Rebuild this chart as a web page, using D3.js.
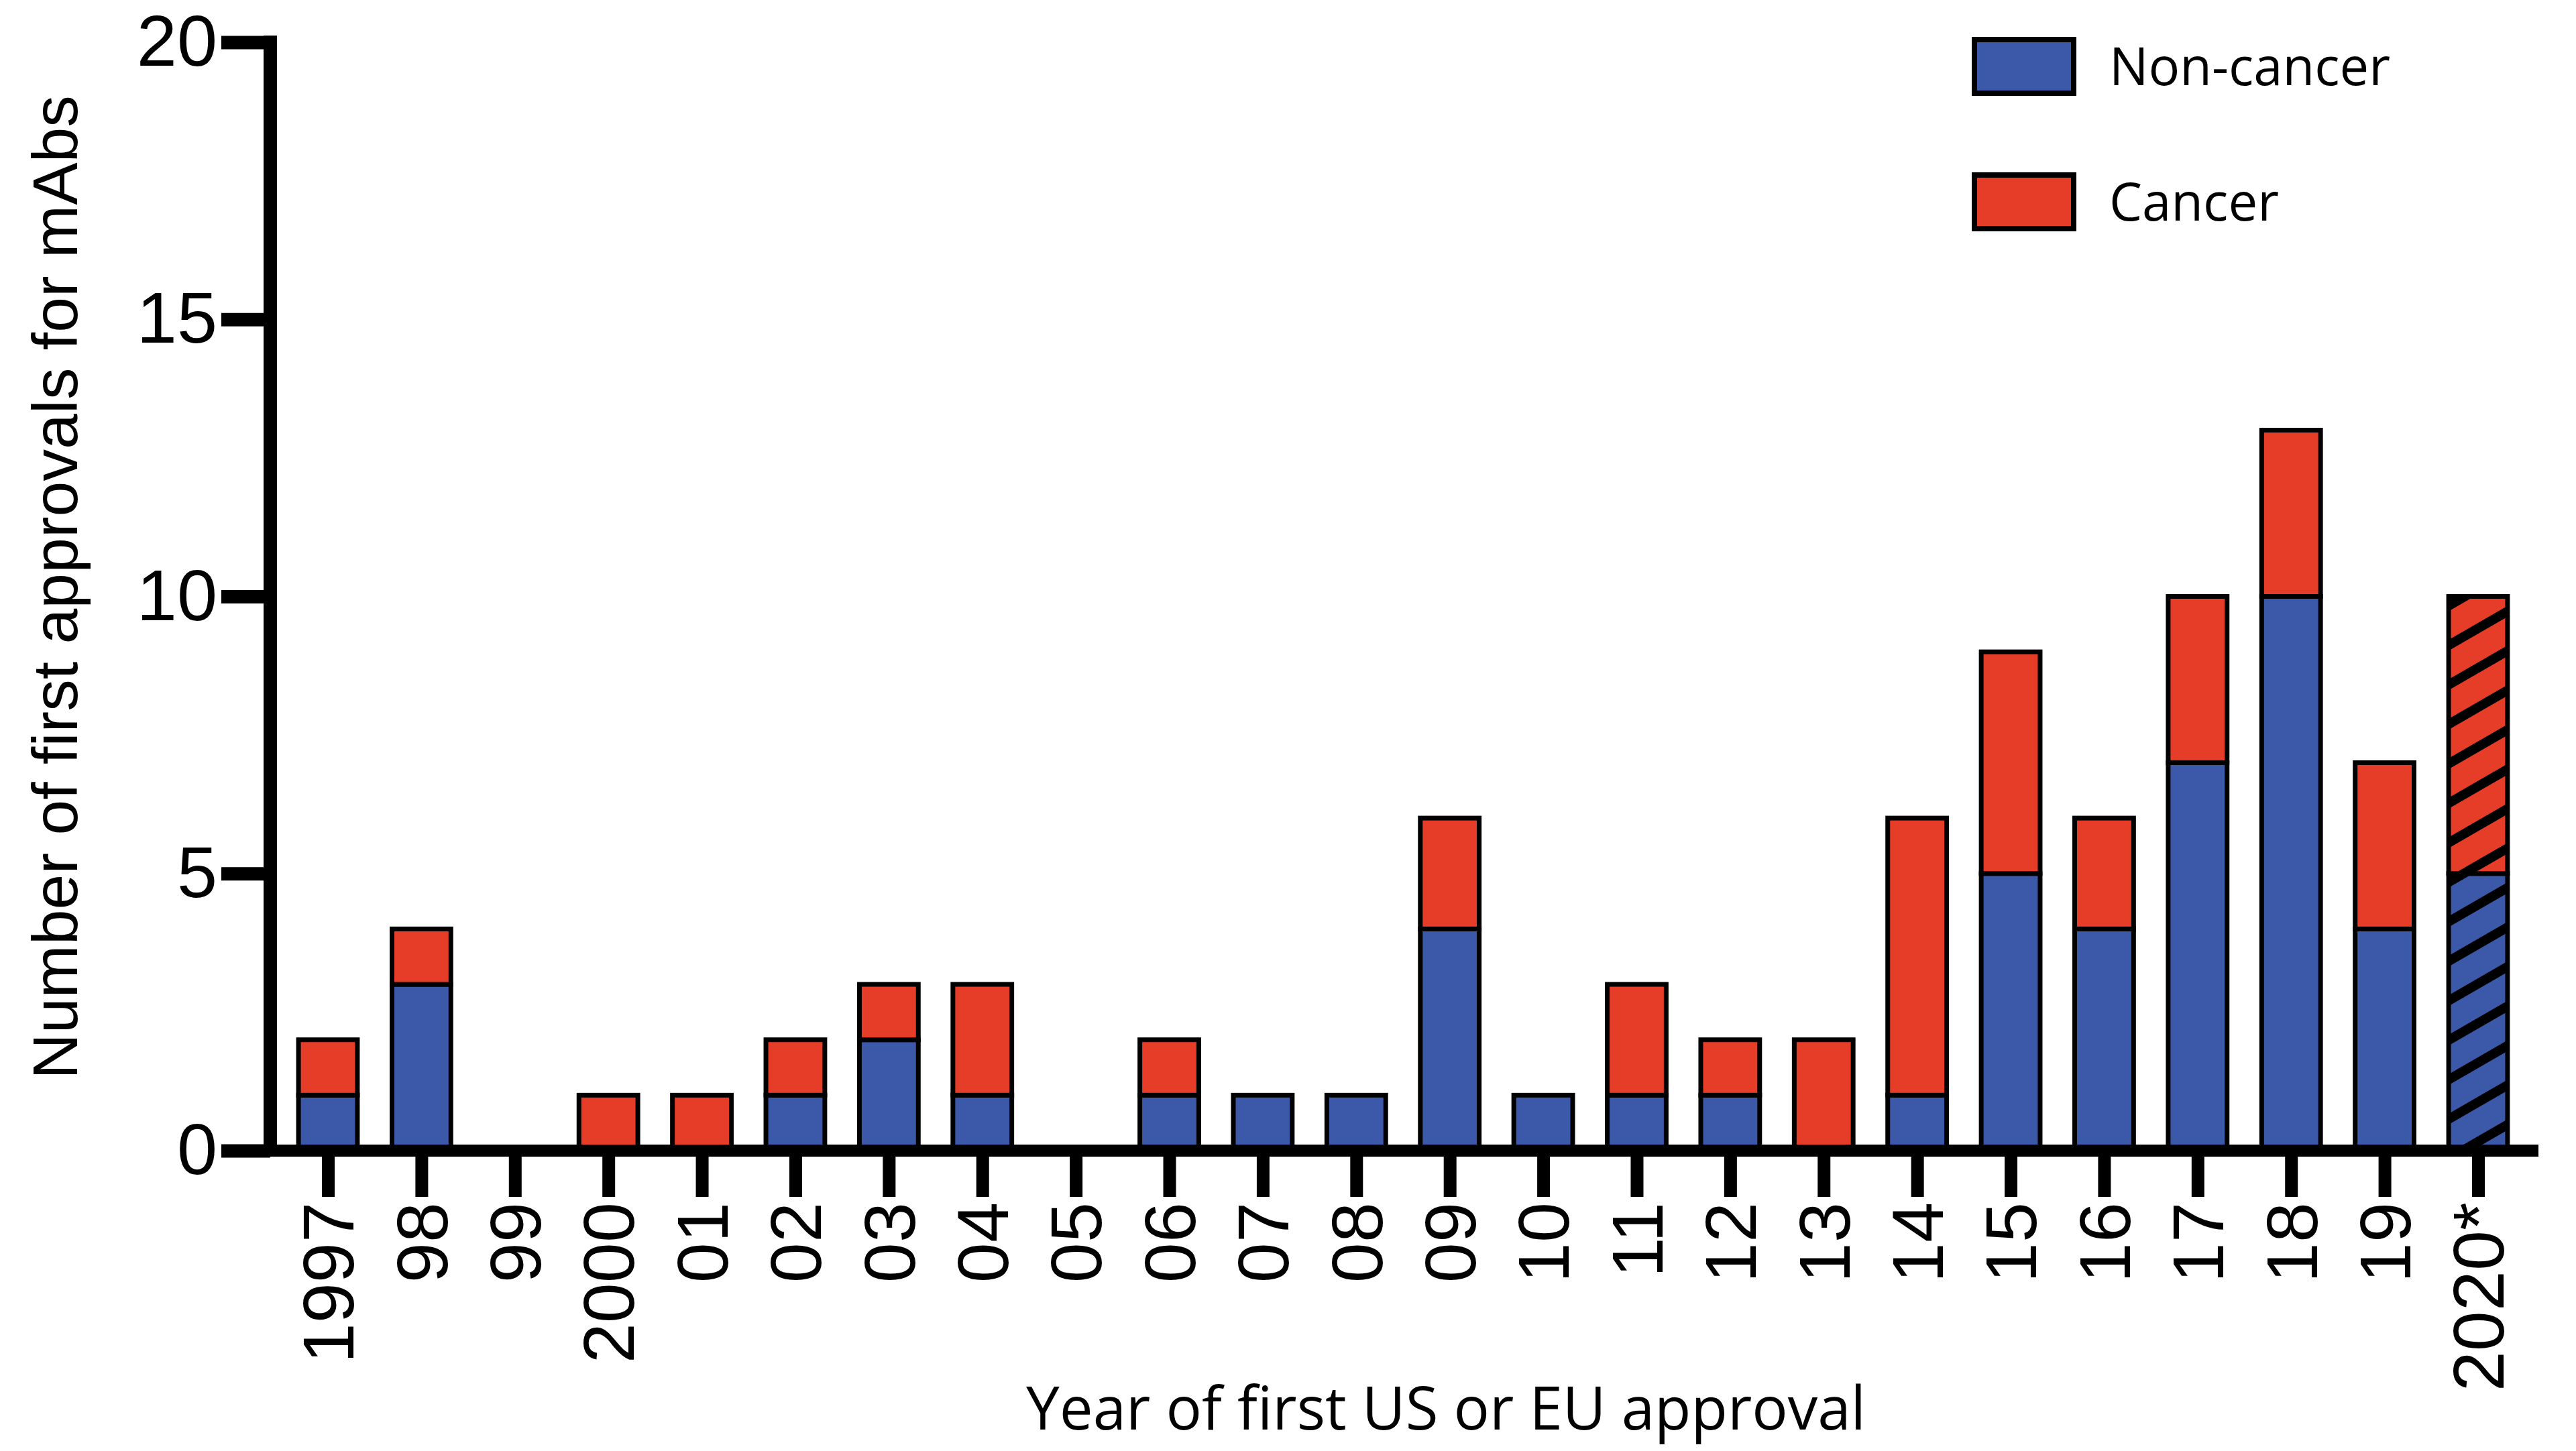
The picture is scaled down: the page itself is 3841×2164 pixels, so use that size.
<!doctype html>
<html>
<head>
<script src="https://cdnjs.cloudflare.com/ajax/libs/d3/7.8.5/d3.min.js"></script>
<style>
  body { margin: 0; background: #fff; }
</style>
</head>
<body>
<svg width="3841" height="2164"></svg>
<script>
// data
var years = ["1997","98","99","2000","01","02","03","04","05","06","07","08",
             "09","10","11","12","13","14","15","16","17","18","19","2020*"];
var nonCancer = [1,3,0,0,0,1,2,1,0,1,1,1,4,1,1,1,0,1,5,4,7,10,4,5];
var cancer    = [1,1,0,1,1,1,1,2,0,1,0,0,2,0,2,1,2,5,4,2,3,3,3,5];
var hatched = ["2020*"];
var yTicks = [0,5,10,15,20];
var seriesNames = ["Non-cancer","Cancer"];
var colors = ["#3c58a8","#e53d27"];

var svg = d3.select("svg");

var x = d3.scalePoint().domain(years).range([489, 3695]);
var y = d3.scaleLinear().domain([0,20]).range([1716, 63]);
var barW = x.step() * 0.63;

var defs = svg.append("defs");
var pat = defs.append("pattern")
   .attr("id", "hatch")
   .attr("patternUnits", "userSpaceOnUse")
   .attr("width", 60).attr("height", 51)
   .attr("patternTransform", "rotate(-30)");
pat.append("rect").attr("x", 0).attr("y", 0).attr("width", 60).attr("height", 14).attr("fill", "#000");

var rows = years.map(function(yr, i) {
  return {year: yr, nc: nonCancer[i], c: cancer[i]};
});

var bars = svg.append("g");
rows.forEach(function(d) {
  var x0 = x(d.year) - barW / 2;
  var segs = [
    {lo: 0, hi: d.nc, col: colors[0]},
    {lo: d.nc, hi: d.nc + d.c, col: colors[1]}
  ];
  segs.forEach(function(s) {
    if (s.hi <= s.lo) return;
    bars.append("rect")
      .attr("x", x0).attr("y", y(s.hi))
      .attr("width", barW).attr("height", y(s.lo) - y(s.hi))
      .attr("fill", s.col);
    if (hatched.indexOf(d.year) >= 0) {
      bars.append("rect")
        .attr("x", x0).attr("y", y(s.hi))
        .attr("width", barW).attr("height", y(s.lo) - y(s.hi))
        .attr("fill", "url(#hatch)");
    }
    bars.append("rect")
      .attr("x", x0).attr("y", y(s.hi))
      .attr("width", barW).attr("height", y(s.lo) - y(s.hi))
      .attr("fill", "none").attr("stroke", "#000").attr("stroke-width", 7);
  });
});

// y axis
var yAxis = svg.append("g")
   .attr("transform", "translate(403,0)")
   .call(d3.axisLeft(y).tickValues(yTicks).tickSize(73).tickPadding(6).tickSizeOuter(0));
yAxis.select(".domain").remove();
yAxis.selectAll(".tick line").attr("stroke", "#000").attr("stroke-width", 20);
yAxis.selectAll(".tick text")
   .attr("font-family", "'Liberation Sans', Arial, sans-serif")
   .attr("font-size", 108).attr("fill", "#000");
svg.append("line")
   .attr("x1", 403).attr("x2", 403).attr("y1", 53).attr("y2", 1725)
   .attr("stroke", "#000").attr("stroke-width", 20);

// x axis
var xAxis = svg.append("g")
   .attr("transform", "translate(0,1716)")
   .call(d3.axisBottom(x).tickSize(69).tickSizeOuter(0));
xAxis.select(".domain").remove();
xAxis.selectAll(".tick line").attr("stroke", "#000").attr("stroke-width", 19);
xAxis.selectAll(".tick text")
   .attr("font-family", "'Liberation Sans', Arial, sans-serif")
   .attr("font-size", 108).attr("fill", "#000")
   .attr("transform", "rotate(-90)")
   .attr("text-anchor", "end")
   .attr("x", -77).attr("y", 0).attr("dy", "0.35em");
svg.append("line")
   .attr("x1", 330).attr("x2", 3785).attr("y1", 1716).attr("y2", 1716)
   .attr("stroke", "#000").attr("stroke-width", 18);

// axis titles
svg.append("text")
   .attr("transform", "translate(115,876) rotate(-90)")
   .attr("text-anchor", "middle")
   .attr("font-family", "'Liberation Sans', Arial, sans-serif")
   .attr("font-size", 95)
   .text("Number of first approvals for mAbs");

svg.append("text")
   .attr("x", 1530).attr("y", 2132)
   .attr("font-family", "'Open Sans', sans-serif")
   .attr("font-size", 90)
   .attr("textLength", 1252).attr("lengthAdjust", "spacingAndGlyphs")
   .text("Year of first US or EU approval");

// legend
var legY = [55, 257];
var legLen = [419, 253];
seriesNames.forEach(function(name, i) {
  svg.append("rect")
     .attr("x", 2944).attr("y", legY[i] + 4)
     .attr("width", 148).attr("height", 80)
     .attr("fill", colors[i]).attr("stroke", "#000").attr("stroke-width", 8);
  svg.append("text")
     .attr("x", 3145).attr("y", legY[i] + 72)
     .attr("font-family", "'Open Sans', sans-serif")
     .attr("font-size", 78)
     .attr("textLength", legLen[i]).attr("lengthAdjust", "spacingAndGlyphs")
     .text(name);
});
</script>
</body>
</html>
